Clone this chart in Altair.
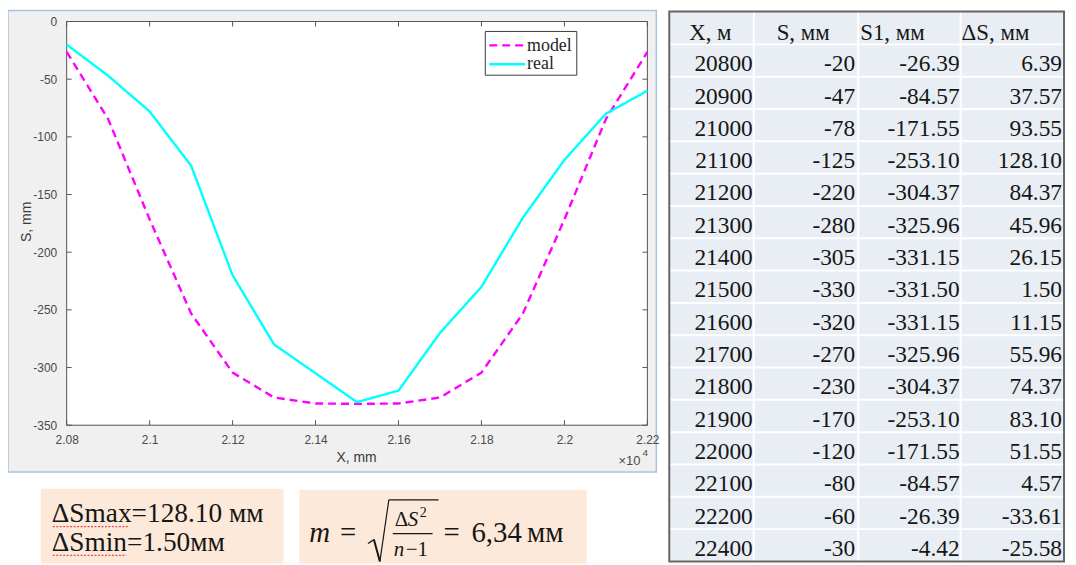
import altair as alt
import pandas as pd

# ---------------- data ----------------
x_m = [20800, 20900, 21000, 21100, 21200, 21300, 21400, 21500,
       21600, 21700, 21800, 21900, 22000, 22100, 22200]
s_real = [-20, -47, -78, -125, -220, -280, -305, -330,
          -320, -270, -230, -170, -120, -80, -60]
s_model = [-26.39, -84.57, -171.55, -253.10, -304.37, -325.96, -331.15, -331.50,
           -331.15, -325.96, -304.37, -253.10, -171.55, -84.57, -26.39]
x_ticks = [20800, 21000, 21200, 21400, 21600, 21800, 22000, 22200]
y_ticks = [0, -50, -100, -150, -200, -250, -300, -350]

tbl_header = ["X, м", "S, мм", "S1, мм", "ΔS, мм"]
tbl_x = ["20800", "20900", "21000", "21100", "21200", "21300", "21400", "21500",
         "21600", "21700", "21800", "21900", "22000", "22100", "22200", "22400"]
tbl_s = ["-20", "-47", "-78", "-125", "-220", "-280", "-305", "-330",
         "-320", "-270", "-230", "-170", "-120", "-80", "-60", "-30"]
tbl_s1 = ["-26.39", "-84.57", "-171.55", "-253.10", "-304.37", "-325.96", "-331.15", "-331.50",
          "-331.15", "-325.96", "-304.37", "-253.10", "-171.55", "-84.57", "-26.39", "-4.42"]
tbl_ds = ["6.39", "37.57", "93.55", "128.10", "84.37", "45.96", "26.15", "1.50",
          "11.15", "55.96", "74.37", "83.10", "51.55", "4.57", "-33.61", "-25.58"]

series_names = ["model", "real"]

# ---------------- layout helpers ----------------
OX, OY = 67, 20          # reference pixel of plot origin
W, H = 584, 406
SERIF = "Liberation Serif, Times New Roman, serif"
SANS = "Liberation Sans, Arial, sans-serif"
one = pd.DataFrame({"k": [0]})


def px(v):
    return v - OX


def py(v):
    return v - OY


def label(txt, x, y, size, align="left", font=SERIF, style="normal",
          color="#161616", baseline="alphabetic"):
    return alt.Chart(one).mark_text(
        text=txt, align=align, baseline=baseline, font=font, fontSize=size,
        fontStyle=style, color=color
    ).encode(x=alt.value(px(x)), y=alt.value(py(y)))


def box(x1, y1, x2, y2, fill, stroke="#ffffff", sw=0, fop=1):
    return alt.Chart(one).mark_rect(
        fill=fill, fillOpacity=fop, stroke=stroke, strokeWidth=sw
    ).encode(x=alt.value(px(x1)), x2=alt.value(px(x2)),
             y=alt.value(py(y1)), y2=alt.value(py(y2)))


def seg(x1, y1, x2, y2, color, width=1, dash=(1, 0)):
    return alt.Chart(one).mark_rule(
        color=color, strokeWidth=width, strokeDash=list(dash)
    ).encode(x=alt.value(px(x1)), x2=alt.value(px(x2)),
             y=alt.value(py(y1)), y2=alt.value(py(y2)))


xscale = alt.Scale(domain=[20800, 22200], nice=False, zero=False)
yscale = alt.Scale(domain=[-350, 0], nice=False, zero=False)

# ---------------- MATLAB figure ----------------
panel = box(8, 9, 660, 473, "#f0f0f0", stroke="#a9c2e2", sw=1.5)
plotbg = box(OX, OY, OX + W, OY + H, "#ffffff", stroke="#555555", sw=1)

df_xt = pd.DataFrame({"v": x_ticks})
df_yt = pd.DataFrame({"v": y_ticks})
tick_col = "#555555"
tb = alt.Chart(df_xt).mark_rule(color=tick_col, strokeWidth=1).encode(
    x=alt.X("v:Q", scale=xscale, axis=None), y=alt.value(H), y2=alt.value(H - 5))
tt = alt.Chart(df_xt).mark_rule(color=tick_col, strokeWidth=1).encode(
    x=alt.X("v:Q", scale=xscale, axis=None), y=alt.value(0), y2=alt.value(5))
tl = alt.Chart(df_yt).mark_rule(color=tick_col, strokeWidth=1).encode(
    y=alt.Y("v:Q", scale=yscale, axis=None), x=alt.value(0), x2=alt.value(5))
tr = alt.Chart(df_yt).mark_rule(color=tick_col, strokeWidth=1).encode(
    y=alt.Y("v:Q", scale=yscale, axis=None), x=alt.value(W), x2=alt.value(W - 5))

df_lines = pd.concat([
    pd.DataFrame({"x": x_m, "s": s_model, "series": "model"}),
    pd.DataFrame({"x": x_m, "s": s_real, "series": "real"}),
])

lines = alt.Chart(df_lines).mark_line(strokeWidth=2.4).encode(
    x=alt.X("x:Q", scale=xscale, axis=alt.Axis(
        values=x_ticks, labelExpr="'' + datum.value / 10000", ticks=False, domain=False,
        grid=False, labelFont=SANS, labelFontSize=12, labelColor="#4a4a4a",
        labelPadding=9, labelFlush=False, labelOverlap=False,
        title="X, mm", titleFont=SANS, titleFontSize=14, titleFontWeight="normal",
        titleColor="#3a3a3a", titleX=291, titleY=32, titleBaseline="middle", zindex=1)),
    y=alt.Y("s:Q", scale=yscale, axis=alt.Axis(
        values=y_ticks, labelExpr="'' + datum.value", ticks=False, domain=False,
        grid=False, labelFont=SANS, labelFontSize=12, labelColor="#4a4a4a",
        labelPadding=10, labelOverlap=False,
        title="S, mm", titleFont=SANS, titleFontSize=14, titleFontWeight="normal",
        titleColor="#3a3a3a", titleX=-40, titleY=201, titleBaseline="middle", zindex=1)),
    color=alt.Color("series:N", scale=alt.Scale(domain=series_names,
                                                range=["#ff00ff", "#00ffff"]), legend=None),
    strokeDash=alt.StrokeDash("series:N", scale=alt.Scale(domain=series_names,
                                                          range=[[8, 5], [1, 0]]), legend=None),
)

# legend (MATLAB style box)
leg_box = box(488, 30, 580, 74, "#ffffff", stroke="#3a3a3a", sw=1)
leg_m = seg(492, 44, 528, 44, "#ff00ff", 2.4, (8, 5))
leg_r = seg(492, 63, 528, 63, "#00ffff", 2.4)
leg_tm = label("model", 530, 45, 18, baseline="middle", color="#262626")
leg_tr = label("real", 530, 63, 18, baseline="middle", color="#262626")

exp1 = label("×10", 622, 466, 13, font=SANS, color="#4a4a4a")
exp2 = label("4", 646, 457, 10, font=SANS, color="#4a4a4a")

# ---------------- table ----------------
T_L, T_R, T_T, T_B = 673, 1070, 10, 563
tbl_scale = alt.Scale(domain=[0, 16], range=[py(43), py(563)], nice=False, zero=False)
df_tbl = pd.DataFrame({"row": list(range(16)), "X": tbl_x, "S": tbl_s,
                       "S1": tbl_s1, "dS": tbl_ds})

tbl_bg = box(T_L, T_T, T_R, T_B, "#e8eef3")
hlines = alt.Chart(df_tbl).mark_rule(color="#ffffff", strokeWidth=2).encode(
    y=alt.Y("row:Q", scale=tbl_scale, axis=None),
    x=alt.value(px(T_L)), x2=alt.value(px(T_R)))
vlines = [seg(xv, T_T, xv, T_B, "#ffffff", 2) for xv in (758, 863, 966)]
tbl_border = box(T_L, T_T, T_R, T_B, "#ffffff", stroke="#666666", sw=2, fop=0)

header = [label(t, xh, 39, 23) for t, xh in zip(tbl_header, (693, 781, 865, 967))]

cols = []
for field, xr in (("X", 757), ("S", 860), ("S1", 965), ("dS", 1068)):
    cols.append(alt.Chart(df_tbl).mark_text(
        align="right", baseline="alphabetic", font=SERIF, fontSize=23.5,
        color="#161616", dy=27
    ).encode(y=alt.Y("row:Q", scale=tbl_scale, axis=None),
             x=alt.value(px(xr)), text=f"{field}:N"))

# ---------------- bottom boxes ----------------
pb1 = box(41, 490, 285, 565, "#fde9d9")
pb2 = box(301, 491, 590, 565, "#fde9d9")
t1 = label("ΔSmax=128.10 мм", 52, 523, 27.5)
t2 = label("ΔSmin=1.50мм", 52, 552, 27.5)
w1 = seg(53, 528, 130, 528, "#e05050", 1.3, (2, 1.5))
w2 = seg(53, 557, 127, 557, "#e05050", 1.3, (2, 1.5))

f_m = label("m", 311, 543, 29, style="italic")
f_eq = label("=", 342, 543, 29)
r1 = seg(370, 545, 376, 541, "#161616", 1.3)
r2 = seg(376, 541, 382, 563, "#161616", 2)
r3 = seg(382, 563, 391, 501, "#161616", 1.2)
r4 = seg(391, 501, 441, 501, "#161616", 1.2)
f_d = label("Δ", 397, 527, 21)
f_s = label("S", 410, 527, 21, style="italic")
f_2 = label("2", 422, 518, 14)
f_bar = seg(395, 535, 435, 535, "#161616", 1.2)
f_n = label("n", 396, 558, 21, style="italic")
f_1 = label("−1", 408, 558, 21)
f_eq2 = label("=", 446, 543, 29)
f_num = label("6,34", 474, 543, 29)
f_unit = label("мм", 530, 543, 29)

layers = ([panel, plotbg, tb, tt, tl, tr, lines, leg_box, leg_m, leg_r, leg_tm, leg_tr,
           exp1, exp2, tbl_bg, hlines] + vlines + [tbl_border] + header + cols +
          [pb1, pb2, t1, t2, w1, w2, f_m, f_eq, r1, r2, r3, r4, f_d, f_s, f_2,
           f_bar, f_n, f_1, f_eq2, f_num, f_unit])

SVG_W, SVG_H = 1066, 557
chart = alt.layer(*layers).resolve_scale(y="independent").resolve_axis(
    x="independent", y="independent"
).properties(
    width=W, height=H,
    autosize=alt.AutoSizeParams(type="none"),
    padding={"left": OX - 8, "top": OY - 8,
             "right": SVG_W - (OX - 8) - W, "bottom": SVG_H - (OY - 8) - H},
    background="#ffffff",
).configure_view(strokeWidth=0)

chart.save("out.html", embed_options={"renderer": "svg", "actions": False})
